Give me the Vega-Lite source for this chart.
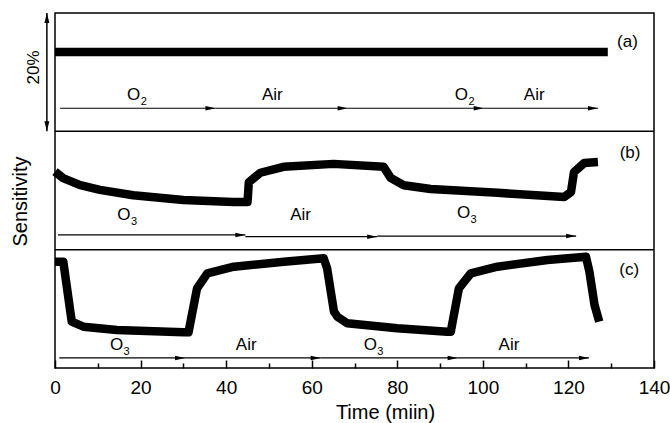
{
  "$schema": "https://vega.github.io/schema/vega-lite/v6.json",
  "width": 599,
  "height": 355,
  "autosize": {"type": "none"},
  "padding": {"left": 55, "top": 13, "right": 16, "bottom": 55},
  "background": "white",
  "config": {
    "view": {"stroke": "black", "strokeWidth": 1.5},
    "font": "Liberation Sans"
  },
  "datasets": {
    "curves": [
      {"panel": "a", "t": 0, "s": 53.4},
      {"panel": "a", "t": 129.2, "s": 53.4},
      {"panel": "b", "t": 0, "s": 33.2},
      {"panel": "b", "t": 1.9, "s": 32.1},
      {"panel": "b", "t": 5.9, "s": 30.9},
      {"panel": "b", "t": 10.5, "s": 30.1},
      {"panel": "b", "t": 18.3, "s": 29.2},
      {"panel": "b", "t": 30.0, "s": 28.4},
      {"panel": "b", "t": 41.7, "s": 28.06},
      {"panel": "b", "t": 45.0, "s": 28.06},
      {"panel": "b", "t": 45.3, "s": 31.4},
      {"panel": "b", "t": 48.0, "s": 33.0},
      {"panel": "b", "t": 53.4, "s": 34.0},
      {"panel": "b", "t": 65.1, "s": 34.5},
      {"panel": "b", "t": 76.8, "s": 34.0},
      {"panel": "b", "t": 78.5, "s": 32.1},
      {"panel": "b", "t": 81.5, "s": 30.9},
      {"panel": "b", "t": 87.8, "s": 30.25},
      {"panel": "b", "t": 103.5, "s": 29.6},
      {"panel": "b", "t": 119.0, "s": 28.9},
      {"panel": "b", "t": 120.6, "s": 29.75},
      {"panel": "b", "t": 121.3, "s": 33.1},
      {"panel": "b", "t": 123.7, "s": 34.65},
      {"panel": "b", "t": 126.9, "s": 34.8},
      {"panel": "c", "t": 0, "s": 17.97},
      {"panel": "c", "t": 1.94, "s": 17.97},
      {"panel": "c", "t": 3.91, "s": 7.83},
      {"panel": "c", "t": 6.63, "s": 6.98},
      {"panel": "c", "t": 14.45, "s": 6.42},
      {"panel": "c", "t": 30.05, "s": 6.03},
      {"panel": "c", "t": 31.2, "s": 6.03},
      {"panel": "c", "t": 33.2, "s": 13.47},
      {"panel": "c", "t": 35.6, "s": 16.01},
      {"panel": "c", "t": 41.8, "s": 17.12},
      {"panel": "c", "t": 53.5, "s": 17.97},
      {"panel": "c", "t": 62.8, "s": 18.54},
      {"panel": "c", "t": 63.6, "s": 16.85},
      {"panel": "c", "t": 65.2, "s": 9.52},
      {"panel": "c", "t": 66.0, "s": 8.67},
      {"panel": "c", "t": 68.3, "s": 7.56},
      {"panel": "c", "t": 80.0, "s": 6.71},
      {"panel": "c", "t": 91.7, "s": 6.14},
      {"panel": "c", "t": 92.5, "s": 6.14},
      {"panel": "c", "t": 94.4, "s": 13.47},
      {"panel": "c", "t": 97.2, "s": 16.01},
      {"panel": "c", "t": 103.4, "s": 17.12},
      {"panel": "c", "t": 115.1, "s": 18.25},
      {"panel": "c", "t": 124.1, "s": 18.81},
      {"panel": "c", "t": 124.9, "s": 16.28},
      {"panel": "c", "t": 126.1, "s": 10.65},
      {"panel": "c", "t": 127.2, "s": 7.83}
    ],
    "arrows": [
      {"t0": 1.2, "t1": 37.5, "s": 43.9},
      {"t0": 37.5, "t1": 68.4, "s": 43.9},
      {"t0": 68.4, "t1": 100.2, "s": 43.9},
      {"t0": 100.2, "t1": 126.9, "s": 43.9},
      {"t0": 0.7, "t1": 44.5, "s": 22.5},
      {"t0": 44.5, "t1": 75.3, "s": 22.2},
      {"t0": 75.3, "t1": 121.8, "s": 22.3},
      {"t0": 1.0, "t1": 30.4, "s": 1.7},
      {"t0": 30.4, "t1": 62.1, "s": 1.7},
      {"t0": 62.1, "t1": 94.1, "s": 1.7},
      {"t0": 94.1, "t1": 124.8, "s": 1.7}
    ],
    "labels": [
      {"t": 18.4, "s": 46.1, "main": "O", "sub": "2"},
      {"t": 50.8, "s": 46.1, "main": "Air", "sub": ""},
      {"t": 95.0, "s": 46.1, "main": "O", "sub": "2"},
      {"t": 112.0, "s": 46.1, "main": "Air", "sub": ""},
      {"t": 16.1, "s": 25.9, "main": "O", "sub": "3"},
      {"t": 57.4, "s": 25.9, "main": "Air", "sub": ""},
      {"t": 95.5, "s": 26.2, "main": "O", "sub": "3"},
      {"t": 14.4, "s": 3.9, "main": "O", "sub": "3"},
      {"t": 44.7, "s": 3.9, "main": "Air", "sub": ""},
      {"t": 73.7, "s": 3.9, "main": "O", "sub": "3"},
      {"t": 106.1, "s": 3.9, "main": "Air", "sub": ""}
    ],
    "panels": [
      {"t": 133.8, "s": 55.15, "text": "(a)"},
      {"t": 134.4, "s": 36.3, "text": "(b)"},
      {"t": 134.2, "s": 16.6, "text": "(c)"}
    ],
    "dividers": [{"s": 20}, {"s": 40}],
    "scalebar": [{"t": -1.9, "s0": 40, "s1": 60, "text": "20%", "tt": -4.8, "ts": 50.8}]
  },
  "layer": [
    {
      "data": {"name": "dividers"},
      "mark": {"type": "rule", "color": "black", "strokeWidth": 1.5},
      "encoding": {
        "y": {"field": "s", "type": "quantitative", "scale": {"domain": [0, 60], "nice": false, "zero": false},
          "axis": {"ticks": false, "labels": false, "domain": false, "grid": false, "title": "Sensitivity",
            "titleFontSize": 20, "titleFontWeight": "normal", "titleColor": "black", "titleFont": "Liberation Sans",
            "titleAngle": -90, "titleX": -35, "titleY": 188, "titleBaseline": "middle", "titleAlign": "center"}}
      }
    },
    {
      "data": {"name": "curves"},
      "mark": {"type": "line", "color": "black", "strokeWidth": 8.5, "strokeJoin": "round", "strokeCap": "butt"},
      "encoding": {
        "x": {"field": "t", "type": "quantitative", "scale": {"domain": [0, 140], "nice": false, "zero": false},
          "axis": {"orient": "bottom", "values": [0, 20, 40, 60, 80, 100, 120, 140], "tickSize": -8, "tickWidth": 1.5, "tickColor": "black",
            "domain": false, "grid": false, "labelFontSize": 19, "labelColor": "black", "labelFont": "Liberation Sans", "labelPadding": 18,
            "labelFlush": false, "labelOverlap": false,
            "title": "Time (miin)", "titleFontSize": 20, "titleFontWeight": "normal", "titleColor": "black", "titleFont": "Liberation Sans",
            "titleX": 330, "titleY": 44, "titleBaseline": "middle", "titleAlign": "center", "titleAnchor": null}},
        "y": {"field": "s", "type": "quantitative"},
        "detail": {"field": "panel"}
      }
    },
    {
      "data": {"name": "arrows"},
      "mark": {"type": "rule", "color": "black", "strokeWidth": 1.2},
      "encoding": {
        "x": {"field": "t0", "type": "quantitative",
          "axis": {"orient": "bottom", "values": [10, 30, 50, 70, 90, 110, 130], "tickSize": -5, "tickWidth": 1.5, "tickColor": "black",
            "domain": false, "grid": false, "labels": false, "title": null}},
        "x2": {"field": "t1"},
        "y": {"field": "s", "type": "quantitative"}
      }
    },
    {
      "data": {"name": "arrows"},
      "mark": {"type": "point", "shape": "M0,0L-2,-0.45L-2,0.45Z", "filled": true, "color": "black", "opacity": 1, "size": 100, "strokeWidth": 0},
      "encoding": {
        "x": {"field": "t1", "type": "quantitative", "axis": null},
        "y": {"field": "s", "type": "quantitative"}
      }
    },
    {
      "data": {"name": "labels"},
      "mark": {"type": "text", "fontSize": 17, "font": "Liberation Sans", "color": "black", "baseline": "middle", "align": "center"},
      "encoding": {
        "x": {"field": "t", "type": "quantitative", "axis": null},
        "y": {"field": "s", "type": "quantitative"},
        "text": {"field": "main"}
      }
    },
    {
      "data": {"name": "labels"},
      "mark": {"type": "text", "fontSize": 11, "font": "Liberation Sans", "color": "black", "baseline": "middle", "align": "left", "dx": 7, "dy": 7},
      "encoding": {
        "x": {"field": "t", "type": "quantitative", "axis": null},
        "y": {"field": "s", "type": "quantitative"},
        "text": {"field": "sub"}
      }
    },
    {
      "data": {"name": "panels"},
      "mark": {"type": "text", "fontSize": 17, "font": "Liberation Sans", "color": "black", "baseline": "middle", "align": "center"},
      "encoding": {
        "x": {"field": "t", "type": "quantitative", "axis": null},
        "y": {"field": "s", "type": "quantitative"},
        "text": {"field": "text"}
      }
    },
    {
      "data": {"name": "scalebar"},
      "mark": {"type": "rule", "color": "black", "strokeWidth": 1.5},
      "encoding": {
        "x": {"field": "t", "type": "quantitative", "axis": null},
        "y": {"field": "s0", "type": "quantitative"},
        "y2": {"field": "s1"}
      }
    },
    {
      "data": {"name": "scalebar"},
      "mark": {"type": "point", "shape": "M0,0L-0.5,2L0.5,2Z", "filled": true, "color": "black", "opacity": 1, "size": 100, "strokeWidth": 0},
      "encoding": {
        "x": {"field": "t", "type": "quantitative", "axis": null},
        "y": {"field": "s1", "type": "quantitative"}
      }
    },
    {
      "data": {"name": "scalebar"},
      "mark": {"type": "point", "shape": "M0,0L-0.5,-2L0.5,-2Z", "filled": true, "color": "black", "opacity": 1, "size": 100, "strokeWidth": 0},
      "encoding": {
        "x": {"field": "t", "type": "quantitative", "axis": null},
        "y": {"field": "s0", "type": "quantitative"}
      }
    },
    {
      "data": {"name": "scalebar"},
      "mark": {"type": "text", "fontSize": 17, "font": "Liberation Sans", "color": "black", "baseline": "middle", "align": "center", "angle": 270},
      "encoding": {
        "x": {"field": "tt", "type": "quantitative", "axis": null},
        "y": {"field": "ts", "type": "quantitative"},
        "text": {"field": "text"}
      }
    }
  ],
  "resolve": {"axis": {"x": "independent"}}
}
